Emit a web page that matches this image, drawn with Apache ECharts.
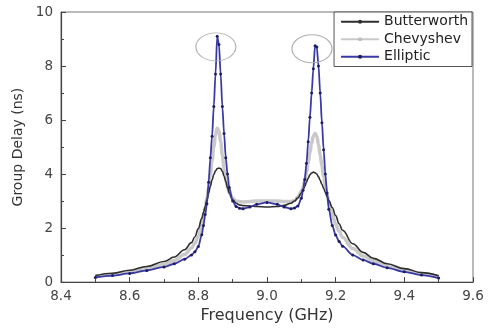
<!DOCTYPE html>
<html>
<head>
<meta charset="utf-8">
<script src="https://cdn.jsdelivr.net/npm/echarts@6/dist/echarts.min.js"></script>
<style>
html,body{margin:0;padding:0;background:#fff;}
#chart{width:488px;height:329px;}
</style>
</head>
<body>
<div id="chart"></div>
<script>
// Frequency (GHz)
var freq = [8.50, 8.55, 8.60, 8.65, 8.70, 8.73, 8.76, 8.78, 8.79, 8.80, 8.81, 8.815, 8.82, 8.825, 8.83, 8.835, 8.84, 8.845, 8.85, 8.855, 8.86, 8.865, 8.87, 8.875, 8.88, 8.885, 8.89, 8.90, 8.91, 8.92, 8.93, 8.95, 8.97, 9.00, 9.03, 9.05, 9.07, 9.08, 9.09, 9.10, 9.105, 9.11, 9.115, 9.12, 9.125, 9.13, 9.135, 9.14, 9.145, 9.15, 9.155, 9.16, 9.165, 9.17, 9.175, 9.18, 9.19, 9.20, 9.21, 9.22, 9.25, 9.28, 9.31, 9.35, 9.40, 9.45, 9.50];

// Group delay (ns)
var butterworth = [0.24, 0.33, 0.44, 0.58, 0.76, 0.93, 1.2, 1.46, 1.68, 1.98, 2.36, 2.58, 2.8, 3.05, 3.3, 3.55, 3.78, 3.98, 4.12, 4.2, 4.22, 4.2, 4.1, 3.92, 3.72, 3.5, 3.3, 3.05, 2.92, 2.86, 2.83, 2.82, 2.8, 2.78, 2.8, 2.84, 2.92, 3.0, 3.12, 3.3, 3.42, 3.55, 3.7, 3.85, 3.97, 4.04, 4.07, 4.05, 4.0, 3.9, 3.76, 3.62, 3.47, 3.32, 3.17, 3.02, 2.76, 2.46, 2.16, 1.92, 1.42, 1.1, 0.88, 0.68, 0.5, 0.35, 0.23];

var chevyshev = [0.2, 0.28, 0.38, 0.5, 0.65, 0.8, 1.02, 1.26, 1.44, 1.7, 2.1, 2.4, 2.75, 3.1, 3.5, 4.0, 4.5, 5.0, 5.45, 5.7, 5.6, 5.2, 4.7, 4.2, 3.8, 3.5, 3.3, 3.1, 3.0, 2.98, 2.97, 2.98, 3.0, 3.0, 3.0, 2.98, 2.98, 3.02, 3.15, 3.35, 3.5, 3.75, 4.05, 4.4, 4.8, 5.15, 5.4, 5.5, 5.4, 5.1, 4.7, 4.3, 3.9, 3.55, 3.25, 2.95, 2.5, 2.15, 1.88, 1.66, 1.24, 0.97, 0.78, 0.6, 0.44, 0.3, 0.19];

var elliptic = [0.17, 0.24, 0.32, 0.43, 0.56, 0.68, 0.85, 1.0, 1.12, 1.32, 1.75, 2.1, 2.5, 2.9, 3.7, 4.6, 5.4, 6.5, 7.7, 9.1, 8.8, 7.7, 6.5, 5.5, 4.6, 4.0, 3.5, 3.0, 2.8, 2.73, 2.72, 2.78, 2.88, 2.95, 2.88, 2.78, 2.72, 2.74, 2.82, 3.1, 3.4, 3.8, 4.4, 5.2, 6.1, 7.0, 7.9, 8.75, 8.7, 8.0, 7.0, 5.9, 4.9, 4.0, 3.3, 2.7, 2.1, 1.74, 1.5, 1.33, 1.0, 0.82, 0.68, 0.53, 0.38, 0.26, 0.15];

// Highlighted peaks (circled)
var peakMarks = [[8.851, 8.71], [9.131, 8.64]];

var seriesNames = ['Butterworth', 'Chevyshev', 'Elliptic'];

function pairs(vals) {
  return freq.map(function (f, i) { return [f, vals[i]]; });
}

var FONT = 'DejaVu Sans';
var chart = echarts.init(document.getElementById('chart'), null, {renderer: 'canvas'});
chart.setOption({
  animation: false,
  backgroundColor: '#fff',
  grid: {left: 61, right: 15, top: 12, bottom: 46, show: true, borderColor: '#777', borderWidth: 1},
  legend: {
    data: seriesNames,
    orient: 'vertical',
    right: 16, top: 12,
    backgroundColor: '#fff',
    borderColor: '#555', borderWidth: 1,
    padding: [2, 4, 2, 6],
    itemWidth: 38, itemHeight: 5, itemGap: 2,
    textStyle: {fontFamily: FONT, fontSize: 14, lineHeight: 15.5, color: '#222'}
  },
  xAxis: {
    type: 'value', min: 8.4, max: 9.6, interval: 0.2,
    name: 'Frequency (GHz)', nameLocation: 'middle', nameGap: 23,
    nameTextStyle: {fontFamily: FONT, fontSize: 16, color: '#333'},
    axisLine: {lineStyle: {color: '#444', width: 1.2}},
    axisTick: {inside: true, length: 5, lineStyle: {color: '#444'}},
    minorTick: {show: true, splitNumber: 2, length: 3, lineStyle: {color: '#444'}},
    splitLine: {show: false},
    axisLabel: {fontFamily: FONT, fontSize: 13.5, color: '#444', margin: 7,
      formatter: function (v) { return v.toFixed(1); }}
  },
  yAxis: {
    type: 'value', min: 0, max: 10, interval: 2,
    name: 'Group Delay (ns)', nameLocation: 'middle', nameGap: 31,
    nameTextStyle: {fontFamily: FONT, fontSize: 14, color: '#333'},
    axisLine: {show: true, lineStyle: {color: '#444', width: 1.2}},
    axisTick: {inside: true, length: 5, lineStyle: {color: '#444'}},
    minorTick: {show: true, splitNumber: 2, length: 3, lineStyle: {color: '#444'}},
    splitLine: {show: false},
    axisLabel: {fontFamily: FONT, fontSize: 13.5, color: '#444', margin: 8}
  },
  series: [
    {
      name: 'Butterworth', type: 'line', z: 3,
      data: pairs(butterworth), smooth: 0.4, smoothMonotone: 'x',
      showSymbol: false, symbol: 'circle', symbolSize: 3,
      lineStyle: {color: '#2e2e2e', width: 1.6},
      itemStyle: {color: '#2e2e2e'}
    },
    {
      name: 'Chevyshev', type: 'line', z: 2,
      data: pairs(chevyshev), smooth: 0.4, smoothMonotone: 'x',
      showSymbol: false, symbol: 'circle', symbolSize: 3,
      lineStyle: {color: '#c9c9c9', width: 3.5},
      itemStyle: {color: '#bdbdbd'}
    },
    {
      name: 'Elliptic', type: 'line', z: 4,
      data: pairs(elliptic), smooth: 0.3, smoothMonotone: 'x',
      showSymbol: true, symbol: 'circle', symbolSize: 3,
      lineStyle: {color: '#3a3aa6', width: 1.8},
      itemStyle: {color: '#1e1e5e'},
      markPoint: {
        silent: true,
        symbol: 'circle', symbolSize: [40, 28],
        itemStyle: {color: 'rgba(0,0,0,0)', borderColor: '#b0b0b0', borderWidth: 1},
        label: {show: false},
        data: peakMarks.map(function (p) { return {coord: p}; })
      }
    }
  ]
});
</script>
</body>
</html>
